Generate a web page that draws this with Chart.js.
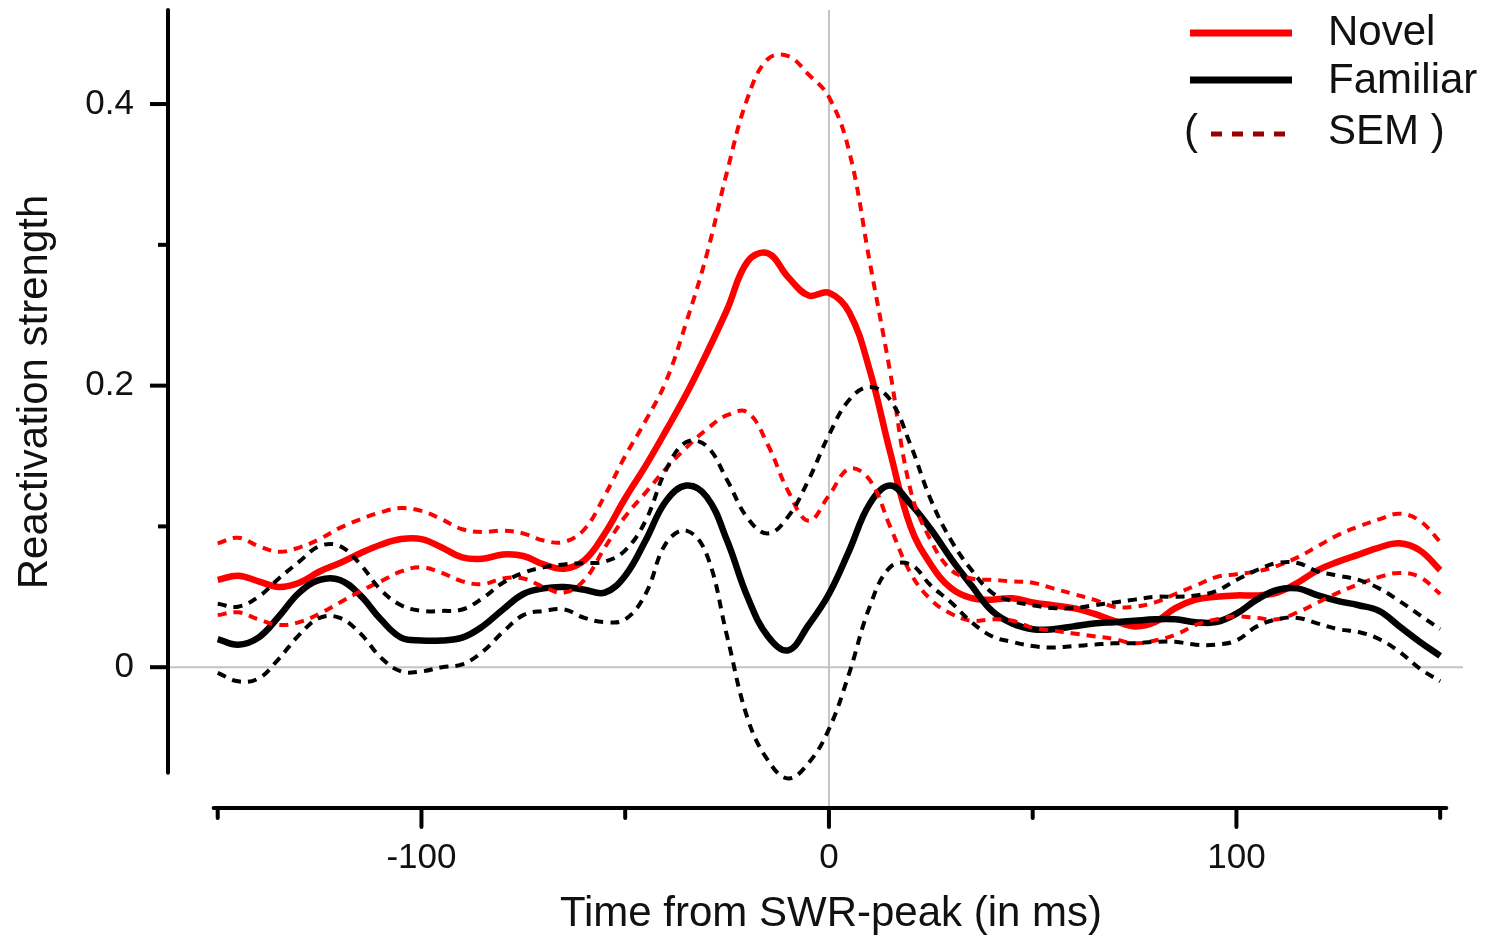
<!DOCTYPE html>
<html lang="en">
<head>
<meta charset="UTF-8">
<title>Reactivation strength around SWR peak</title>
<script src="https://cdn.jsdelivr.net/npm/chart.js"></script>
<style>
  body { margin: 0; background: #fff; }
  #wrap { width: 1485px; height: 938px; position: relative; }
</style>
</head>
<body>
<div id="wrap"><canvas id="chart"></canvas></div>
<script>
// time from SWR peak (ms), 5 ms steps
const times = [];
for (let t = -150; t <= 150; t += 5) times.push(t);

const novelMean = [0.062,0.065,0.061,0.057,0.060,0.068,0.074,0.081,0.087,0.091,0.091,0.085,0.078,0.077,0.080,0.079,0.073,0.070,0.076,0.095,0.120,0.143,0.168,0.194,0.223,0.254,0.288,0.294,0.277,0.264,0.266,0.252,0.211,0.153,0.100,0.073,0.056,0.049,0.048,0.049,0.046,0.044,0.042,0.038,0.033,0.029,0.032,0.042,0.048,0.050,0.051,0.051,0.053,0.060,0.069,0.075,0.080,0.085,0.088,0.083,0.069];
const novelUpper = [0.088,0.092,0.086,0.082,0.085,0.091,0.099,0.105,0.110,0.113,0.111,0.105,0.098,0.096,0.097,0.095,0.090,0.089,0.098,0.122,0.150,0.175,0.203,0.245,0.293,0.352,0.404,0.432,0.434,0.421,0.405,0.366,0.288,0.210,0.126,0.090,0.069,0.063,0.062,0.061,0.060,0.056,0.052,0.048,0.043,0.043,0.046,0.052,0.058,0.064,0.066,0.068,0.072,0.078,0.086,0.094,0.100,0.105,0.109,0.104,0.089];
const novelLower = [0.037,0.039,0.034,0.030,0.032,0.038,0.046,0.054,0.061,0.068,0.071,0.067,0.061,0.059,0.063,0.063,0.057,0.053,0.062,0.085,0.107,0.124,0.141,0.156,0.169,0.179,0.181,0.158,0.125,0.104,0.122,0.141,0.133,0.100,0.067,0.048,0.038,0.033,0.034,0.033,0.028,0.026,0.024,0.022,0.020,0.017,0.019,0.023,0.030,0.034,0.036,0.035,0.034,0.039,0.046,0.053,0.059,0.064,0.067,0.064,0.052];
const familiarMean = [0.020,0.016,0.021,0.036,0.053,0.062,0.062,0.051,0.034,0.021,0.019,0.019,0.021,0.029,0.041,0.052,0.056,0.057,0.055,0.053,0.065,0.090,0.118,0.129,0.121,0.090,0.050,0.022,0.012,0.030,0.052,0.083,0.116,0.129,0.116,0.098,0.077,0.058,0.040,0.031,0.027,0.027,0.029,0.031,0.032,0.033,0.034,0.034,0.032,0.032,0.038,0.048,0.055,0.056,0.051,0.047,0.044,0.040,0.029,0.018,0.008];
const familiarUpper = [0.045,0.043,0.050,0.063,0.075,0.086,0.086,0.073,0.055,0.044,0.040,0.040,0.041,0.049,0.060,0.067,0.071,0.073,0.074,0.075,0.083,0.104,0.140,0.160,0.157,0.133,0.106,0.095,0.107,0.133,0.165,0.190,0.199,0.190,0.158,0.119,0.090,0.069,0.053,0.047,0.044,0.042,0.042,0.044,0.046,0.048,0.050,0.050,0.051,0.054,0.062,0.069,0.074,0.074,0.068,0.065,0.062,0.056,0.047,0.037,0.027];
const familiarLower = [-0.004,-0.010,-0.008,0.006,0.023,0.035,0.035,0.024,0.007,-0.003,-0.003,0.000,0.002,0.011,0.025,0.037,0.040,0.041,0.035,0.032,0.034,0.052,0.088,0.097,0.080,0.022,-0.036,-0.066,-0.079,-0.068,-0.044,-0.004,0.043,0.071,0.073,0.058,0.046,0.032,0.022,0.018,0.015,0.014,0.015,0.016,0.017,0.017,0.018,0.018,0.016,0.016,0.019,0.029,0.034,0.035,0.031,0.027,0.025,0.020,0.011,-0.001,-0.010];

const xMajorTicks = [-100, 0, 100];
const xMinorTicks = [-150, -50, 50, 150];
const yMajorTicks = [0, 0.2, 0.4];
const yMinorTicks = [0.1, 0.3];
const yTickLabels = ['0', '0.2', '0.4'];
const xTickLabels = ['-100', '0', '100'];

const FONT = '"Liberation Sans", Arial, sans-serif';

function pts(arr) {
  return arr.map((v, i) => ({ x: times[i], y: v }));
}

function dashed(data, color) {
  return { data: pts(data), borderColor: color, borderWidth: 4, borderDash: [9, 7],
           pointRadius: 0, fill: false, tension: 0.4 };
}
function solid(data, color) {
  return { data: pts(data), borderColor: color, borderWidth: 6.5,
           pointRadius: 0, fill: false, tension: 0.4 };
}

const refLines = {
  id: 'refLines',
  beforeDatasetsDraw(chart) {
    const { ctx, scales: { x, y }, chartArea } = chart;
    ctx.save();
    ctx.strokeStyle = '#c4c4c4';
    ctx.lineWidth = 2;
    ctx.beginPath();
    ctx.moveTo(chartArea.left, y.getPixelForValue(0));
    ctx.lineTo(chartArea.right, y.getPixelForValue(0));
    ctx.moveTo(x.getPixelForValue(0), chartArea.top);
    ctx.lineTo(x.getPixelForValue(0), chartArea.bottom);
    ctx.stroke();
    ctx.restore();
  }
};

const axesAndLegend = {
  id: 'axesAndLegend',
  afterDraw(chart) {
    const { ctx, scales: { x, y }, chartArea } = chart;
    ctx.save();
    ctx.strokeStyle = '#000';
    ctx.fillStyle = '#111';
    ctx.lineWidth = 4;
    ctx.lineCap = 'round';

    // y axis
    const ax = chartArea.left;
    ctx.beginPath();
    ctx.moveTo(ax, y.getPixelForValue(0.4668));
    ctx.lineTo(ax, y.getPixelForValue(-0.075));
    ctx.stroke();
    ctx.lineCap = 'butt';
    yMajorTicks.forEach(v => {
      const py = y.getPixelForValue(v);
      ctx.beginPath(); ctx.moveTo(ax - 18, py); ctx.lineTo(ax, py); ctx.stroke();
    });
    yMinorTicks.forEach(v => {
      const py = y.getPixelForValue(v);
      ctx.beginPath(); ctx.moveTo(ax - 10, py); ctx.lineTo(ax, py); ctx.stroke();
    });
    ctx.font = '35px ' + FONT;
    ctx.textAlign = 'right';
    ctx.textBaseline = 'middle';
    yMajorTicks.forEach((v, i) => ctx.fillText(yTickLabels[i], ax - 34, y.getPixelForValue(v)));

    // x axis
    const ay = chartArea.bottom;
    ctx.lineCap = 'round';
    ctx.beginPath();
    ctx.moveTo(x.getPixelForValue(-151), ay);
    ctx.lineTo(x.getPixelForValue(151.5), ay);
    ctx.stroke();
    xMajorTicks.forEach(v => {
      const px = x.getPixelForValue(v);
      ctx.beginPath(); ctx.moveTo(px, ay); ctx.lineTo(px, ay + 19); ctx.stroke();
    });
    xMinorTicks.forEach(v => {
      const px = x.getPixelForValue(v);
      ctx.beginPath(); ctx.moveTo(px, ay); ctx.lineTo(px, ay + 10); ctx.stroke();
    });
    ctx.textAlign = 'center';
    xMajorTicks.forEach((v, i) => ctx.fillText(xTickLabels[i], x.getPixelForValue(v), ay + 50));

    // axis titles
    ctx.font = '42px ' + FONT;
    ctx.fillText('Time from SWR-peak (in ms)', x.getPixelForValue(0.5), ay + 106);
    ctx.save();
    ctx.translate(35, 392);
    ctx.rotate(-Math.PI / 2);
    ctx.fillText('Reactivation strength', 0, 0);
    ctx.restore();

    // legend
    const lx0 = 1190, lx1 = 1292, tx = 1328;
    ctx.lineCap = 'butt';
    ctx.lineWidth = 7;
    ctx.strokeStyle = '#ff0000';
    ctx.beginPath(); ctx.moveTo(lx0, 33); ctx.lineTo(lx1, 33); ctx.stroke();
    ctx.strokeStyle = '#000';
    ctx.beginPath(); ctx.moveTo(lx0, 80); ctx.lineTo(lx1, 80); ctx.stroke();
    ctx.strokeStyle = '#990000';
    ctx.lineWidth = 5;
    ctx.setLineDash([11, 10]);
    ctx.beginPath(); ctx.moveTo(1211, 134); ctx.lineTo(1290, 134); ctx.stroke();
    ctx.setLineDash([]);
    ctx.font = '42px ' + FONT;
    ctx.textAlign = 'left';
    ctx.fillStyle = '#111';
    ctx.fillText('Novel', tx, 33);
    ctx.fillText('Familiar', tx, 81);
    ctx.fillText('SEM )', tx, 132);
    ctx.fillText('(', 1184, 132);
    ctx.restore();
  }
};

new Chart(document.getElementById('chart'), {
  type: 'line',
  data: {
    datasets: [
      dashed(familiarUpper, '#000000'),
      dashed(familiarLower, '#000000'),
      dashed(novelUpper, '#ff0000'),
      dashed(novelLower, '#ff0000'),
      solid(familiarMean, '#000000'),
      solid(novelMean, '#ff0000')
    ]
  },
  options: {
    responsive: true,
    maintainAspectRatio: false,
    animation: false,
    layout: { padding: { left: 168, right: 22, top: 10, bottom: 130 } },
    plugins: { legend: { display: false }, tooltip: { enabled: false } },
    scales: {
      x: { type: 'linear', min: -162.2, max: 155.6, display: false },
      y: { min: -0.1, max: 0.4668, display: false }
    }
  },
  plugins: [refLines, axesAndLegend]
});
</script>
</body>
</html>
